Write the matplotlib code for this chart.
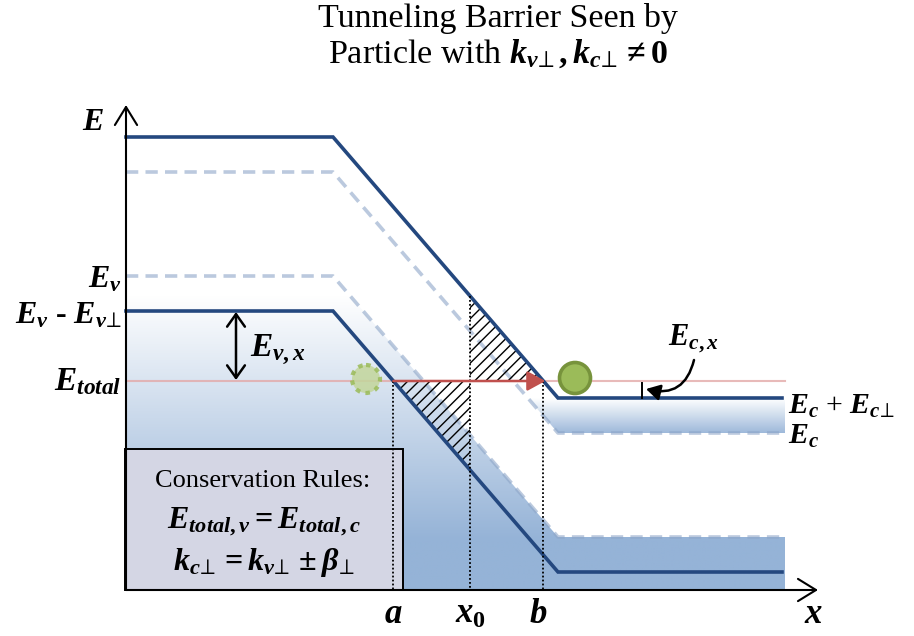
import numpy as np
import matplotlib
matplotlib.use("Agg")
import matplotlib.pyplot as plt
from matplotlib.patches import Polygon, Circle, FancyArrowPatch, Rectangle
from matplotlib.colors import to_rgb

plt.rcParams['mathtext.fontset'] = 'custom'
plt.rcParams['mathtext.it'] = 'Liberation Serif:bold:italic'
plt.rcParams['mathtext.rm'] = 'Liberation Serif:bold'
plt.rcParams['mathtext.bf'] = 'Liberation Serif:bold'
plt.rcParams['mathtext.fallback'] = 'stix'
plt.rcParams['hatch.linewidth'] = 1.0

# ---- band diagram (horizontal position, energy in drawing units; y grows downward)
band_x = [126, 333, 558, 782]
ec_perp = [137, 137, 398, 398]     # Ec + Ec_perp
ec = [172, 172, 433, 433]          # Ec
ev = [276, 276, 537, 537]          # Ev
ev_perp = [311, 311, 572, 572]     # Ev - Ev_perp
e_total = 381
x_zero = 470
axis_origin = (126, 590)
axis_x_end = 818
axis_y_end = 105
fill_right = 785

BLUE = '#24487F'
FILL = '#95B3D7'
DASH = '#8EA6C8'

fig = plt.figure(figsize=(9.14, 6.36), dpi=100)
ax = fig.add_axes([0, 0, 1, 1])
ax.set_xlim(0, 914)
ax.set_ylim(636, 0)
ax.axis('off')


def crossing(xs, ys, level):
    # x where the sloped part of a band reaches a given energy
    return np.interp(level, [ys[1], ys[2]], [xs[1], xs[2]])


x_a = crossing(band_x, ev_perp, e_total)
x_b = crossing(band_x, ec_perp, e_total)


def gradient_fill(poly_pts, y_top, y_full, y_bottom, color, zorder):
    n = 256
    ys = np.linspace(y_top, y_bottom, n)
    t = np.clip((ys - y_top) / (y_full - y_top), 0, 1)
    c = np.array(to_rgb(color))
    rgb = (1 - t[:, None]) * np.ones(3) + t[:, None] * c
    img = np.repeat(rgb[:, None, :], 2, axis=1)
    xs = [p[0] for p in poly_pts]
    im = ax.imshow(img, extent=(min(xs), max(xs), y_bottom, y_top), origin='upper',
                   aspect='auto', interpolation='bilinear', zorder=zorder)
    clip = Polygon(poly_pts, closed=True, transform=ax.transData, facecolor='none', edgecolor='none')
    ax.add_patch(clip)
    im.set_clip_path(clip)


# valence band fill below Ev
val_poly = [(band_x[0], axis_origin[1])] + list(zip(band_x[:-1], ev[:-1])) + \
    [(fill_right, ev[-1]), (fill_right, axis_origin[1])]
gradient_fill(val_poly, 295, 540, axis_origin[1], FILL, 1)

# conduction band fill between Ec + Ec_perp and Ec
cb_top = list(zip(band_x[:-1], ec_perp[:-1])) + [(fill_right, ec_perp[-1])]
cb_bot = list(zip(band_x[:-1], ec[:-1])) + [(fill_right, ec[-1])]
cond_poly = cb_top + cb_bot[::-1]
gradient_fill(cond_poly, 398, 436, 440, FILL, 1)

# conservation rules box
ax.add_patch(Rectangle((125, 449), 403 - 125, 590 - 449, facecolor='#D4D6E4',
                       edgecolor='black', lw=1.4, zorder=2))
ax.text(263, 487, 'Conservation Rules:', family='Liberation Serif', fontsize=19,
        ha='center', va='baseline', zorder=8)
ax.text(264, 528, r'$E_{total,v} = E_{total,c}$', fontsize=23, ha='center',
        va='baseline', zorder=8)
ax.text(264, 570, r'$k_{c\!\perp} = k_{v\!\perp} \pm \beta_{\!\perp}$', fontsize=23,
        ha='center', va='baseline', zorder=8)

# dashed bands
ax.plot(band_x, ec, color=DASH, alpha=0.6, lw=2.6, ls=(0, (3.4, 2.0)), zorder=3)
ax.plot(band_x, ev, color=DASH, alpha=0.6, lw=2.6, ls=(0, (3.4, 2.0)), zorder=3)

# total energy line
ax.plot([band_x[0], fill_right], [e_total, e_total], color='#E3A9A8', lw=1.5,
        alpha=0.8, zorder=3)

# tunneling regions
ev_at_x0 = np.interp(x_zero, band_x, ev_perp)
ec_at_x0 = np.interp(x_zero, band_x, ec_perp)
ax.add_patch(Polygon([(x_a, e_total), (x_zero, e_total), (x_zero, ev_at_x0)],
                     closed=True, facecolor='none', edgecolor='black', lw=0,
                     hatch='///', zorder=3))
ax.add_patch(Polygon([(x_zero, ec_at_x0), (x_zero, e_total), (x_b, e_total)],
                     closed=True, facecolor='none', edgecolor='black', lw=0,
                     hatch='///', zorder=3))

# solid bands
ax.plot(band_x, ec_perp, color=BLUE, lw=2.6, solid_joinstyle='miter', zorder=4)
ax.plot(band_x, ev_perp, color=BLUE, lw=2.6, solid_joinstyle='miter', zorder=4)

# dotted position markers
for xv, ytop in [(x_a, e_total), (x_zero, ec_at_x0), (x_b, e_total)]:
    ax.plot([xv, xv], [ytop, axis_origin[1]], color='black', lw=1.3,
            ls=(0, (1, 1.2)), zorder=5)

# tunneling arrow
ax.add_patch(FancyArrowPatch((x_a, e_total), (x_b + 2, e_total),
                             arrowstyle='-|>,head_length=0.55,head_width=0.3',
                             mutation_scale=20, color='#C0504D', lw=1.8,
                             shrinkA=0, shrinkB=0, zorder=6))

# particles
ax.add_patch(Circle((366, 379), 14, facecolor='#C3D69B', edgecolor='#9BBB59',
                    lw=3, ls=(0, (1.1, 1.3)), alpha=0.85, zorder=6))
ax.add_patch(Circle((575, 378), 15.5, facecolor='#9BBB59', edgecolor='#77933C',
                    lw=2.6, zorder=6))

# E_v,x double arrow
ax.add_patch(FancyArrowPatch((236, ev_perp[0] + 1), (236, e_total - 1),
                             arrowstyle='<->,head_length=0.45,head_width=0.32',
                             mutation_scale=20, color='black', lw=1.8,
                             shrinkA=0, shrinkB=0, zorder=6))
ax.text(250, 356, r'$E_{v,x}$', fontsize=24, ha='left', va='baseline', zorder=8)

# E_c,x marker and curved pointer
ax.plot([642, 642], [383, ec_perp[-1]], color='black', lw=1.4, zorder=6)
ax.add_patch(FancyArrowPatch((694, 360), (646, 389),
                             connectionstyle='arc3,rad=-0.5',
                             arrowstyle='-|>,head_length=0.42,head_width=0.24',
                             mutation_scale=20, color='black', lw=1.8,
                             shrinkA=0, shrinkB=0, zorder=6))
ax.text(668, 345, r'$E_{c,x}$', fontsize=22, ha='left', va='baseline', zorder=8)

# axes with open arrowheads
ax.add_patch(FancyArrowPatch(axis_origin, (axis_origin[0], axis_y_end),
                             arrowstyle='->,head_length=0.65,head_width=0.4',
                             mutation_scale=20, color='black', lw=1.5,
                             shrinkA=0, shrinkB=0, zorder=7))
ax.add_patch(FancyArrowPatch(axis_origin, (axis_x_end, axis_origin[1]),
                             arrowstyle='->,head_length=0.65,head_width=0.4',
                             mutation_scale=20, color='black', lw=1.5,
                             shrinkA=0, shrinkB=0, zorder=7))

# energy labels
ax.text(104, 130, r'$E$', fontsize=23, ha='right', va='baseline')
ax.text(122, 288, r'$E_v$', fontsize=23, ha='right', va='baseline')
ax.text(122, 323, r'$E_v$ - $E_{v\!\perp}$', fontsize=23, ha='right', va='baseline',
        family='Liberation Serif', weight='bold')
ax.text(121, 390, r'$E_{total}$', fontsize=24, ha='right', va='baseline')
ax.text(788, 414, r'$E_c$ + $E_{c\!\perp}$', fontsize=21.5, ha='left', va='baseline',
        family='Liberation Serif')
ax.text(788, 444, r'$E_c$', fontsize=21.5, ha='left', va='baseline')

# position labels
ax.text(x_a, 623, r'$a$', fontsize=25, ha='center', va='baseline')
ax.text(x_zero, 623, r'$x_{\mathit{0}}$', fontsize=25, ha='center', va='baseline')
ax.text(x_b - 5, 623, r'$b$', fontsize=25, ha='center', va='baseline')
ax.text(813, 623, r'$x$', fontsize=25, ha='center', va='baseline')

# title
ax.text(498, 27, 'Tunneling Barrier Seen by', family='Liberation Serif',
        fontsize=24.5, ha='center', va='baseline')
ax.text(498, 63, r'Particle with $k_{v\!\perp}, k_{c\!\perp} \neq \mathbf{0}$',
        family='Liberation Serif', fontsize=24.5, ha='center', va='baseline')

fig.savefig('out.png', dpi=100)
